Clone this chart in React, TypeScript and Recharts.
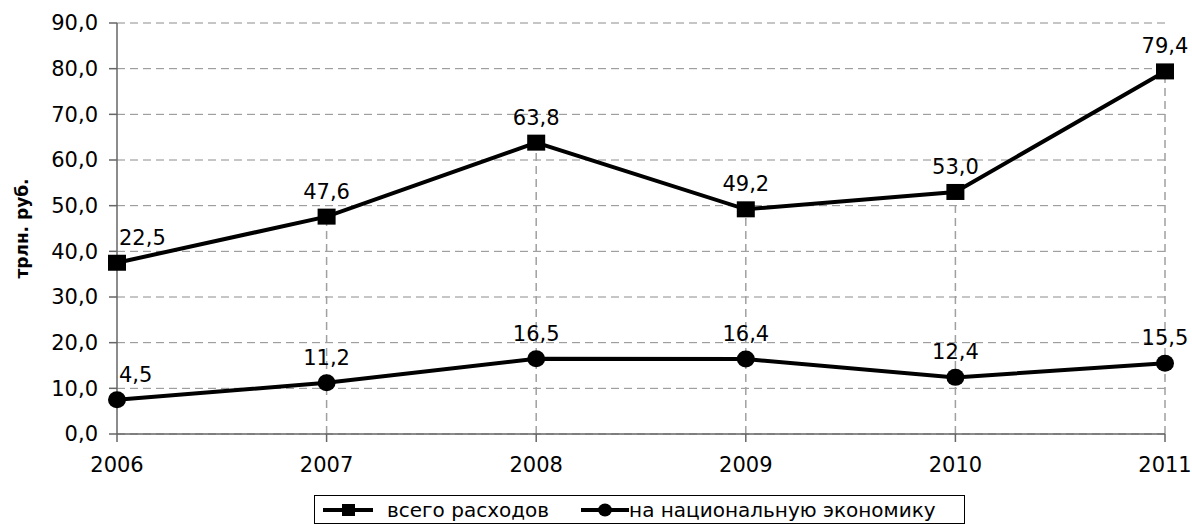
import { LineChart, Line, XAxis, YAxis, CartesianGrid, Legend, LabelList, ReferenceLine } from 'recharts';

const years = ['2006', '2007', '2008', '2009', '2010', '2011'];
const totalValues = [37.5, 47.6, 63.8, 49.2, 53.0, 79.4];
const totalLabels = ['22,5', '47,6', '63,8', '49,2', '53,0', '79,4'];
const economyValues = [7.5, 11.2, 16.5, 16.4, 12.4, 15.5];
const economyLabels = ['4,5', '11,2', '16,5', '16,4', '12,4', '15,5'];
const yTicks = [0, 10, 20, 30, 40, 50, 60, 70, 80, 90];

const data = years.map((year, i) => ({
  year,
  total: totalValues[i],
  economy: economyValues[i],
}));

const FONT = '"DejaVu Sans", sans-serif';
const tickStyle = { fontSize: 21, fill: '#000', fontFamily: FONT };

function SquareDot(props: any) {
  const { cx, cy } = props;
  if (cx == null || cy == null) return null;
  return <rect key={`sq-${props.index}`} x={cx - 9} y={cy - 8} width={18} height={16} fill="#000" />;
}

function CircleDot(props: any) {
  const { cx, cy } = props;
  if (cx == null || cy == null) return null;
  return <ellipse key={`ci-${props.index}`} cx={cx} cy={cy} rx={9} ry={8.5} fill="#000" />;
}

const makeLabel = (texts: string[]) => (props: any) => {
  const { x, y, index } = props;
  const first = index === 0;
  return (
    <text
      x={first ? x + 2 : x}
      y={y - 18}
      textAnchor={first ? 'start' : 'middle'}
      fontSize={21}
      fontFamily={FONT}
      fill="#000"
    >
      {texts[index]}
    </text>
  );
};

function LegendBox() {
  return (
    <div
      style={{
        border: '1px solid #000',
        height: 29,
        boxSizing: 'border-box',
        display: 'flex',
        alignItems: 'center',
        fontFamily: FONT,
        fontSize: 20,
        color: '#000',
        whiteSpace: 'nowrap',
      }}
    >
      <svg width={50} height={16} style={{ marginLeft: 8 }}>
        <line x1={0} y1={8} x2={50} y2={8} stroke="#000" strokeWidth={4} />
        <rect x={19} y={2} width={13} height={12} fill="#000" />
      </svg>
      <span style={{ marginLeft: 14 }}>всего расходов</span>
      <svg width={48} height={16} style={{ marginLeft: 32 }}>
        <line x1={0} y1={8} x2={48} y2={8} stroke="#000" strokeWidth={4} />
        <ellipse cx={24} cy={8} rx={7} ry={6.5} fill="#000" />
      </svg>
      <span>на национальную экономику</span>
    </div>
  );
}

export default function App() {
  return (
    <div style={{ position: 'absolute', left: 0, top: 0, width: 1192, height: 524, background: '#fff' }}>
      <LineChart width={1192} height={524} data={data} margin={{ top: 23, right: 27, left: 0, bottom: 0 }}>
        <CartesianGrid stroke="#8c8c8c" strokeDasharray="8 5" vertical={false} />
        <XAxis
          dataKey="year"
          tick={tickStyle}
          tickSize={8}
          tickMargin={15}
          height={61}
          axisLine={{ stroke: '#666', strokeWidth: 1.5 }}
          tickLine={{ stroke: '#666', strokeWidth: 1.5 }}
          interval={0}
        />
        <YAxis
          domain={[0, 90]}
          ticks={yTicks}
          width={117}
          tick={tickStyle}
          tickSize={8}
          tickMargin={11}
          axisLine={{ stroke: '#666', strokeWidth: 1.5 }}
          tickLine={{ stroke: '#666', strokeWidth: 1.5 }}
          tickFormatter={(v: number) => v.toFixed(1).replace('.', ',')}
          label={{
            content: (p: any) => {
              const vb = p.viewBox || {};
              const cy = (vb.y ?? 23) + (vb.height ?? 411) / 2;
              return (
                <text
                  x={28}
                  y={cy}
                  transform={`rotate(-90, 28, ${cy})`}
                  textAnchor="middle"
                  fontSize={17}
                  fontWeight="bold"
                  fontFamily={FONT}
                  fill="#000"
                >
                  трлн. руб.
                </text>
              );
            },
          }}
        />
        {years.slice(1).map((year, i) => (
          <ReferenceLine
            key={year}
            segment={[
              { x: year, y: 0 },
              { x: year, y: totalValues[i + 1] },
            ]}
            stroke="#a0a0a0"
            strokeWidth={1.5}
            strokeDasharray="8 5"
          />
        ))}
        <Legend
          verticalAlign="bottom"
          content={() => <LegendBox />}
          wrapperStyle={{ left: 314, width: 651, height: 29, bottom: 0 }}
        />
        <Line
          dataKey="total"
          name="всего расходов"
          stroke="#000"
          strokeWidth={4}
          dot={SquareDot}
          activeDot={false}
          isAnimationActive={false}
        >
          <LabelList dataKey="total" content={makeLabel(totalLabels)} />
        </Line>
        <Line
          dataKey="economy"
          name="на национальную экономику"
          stroke="#000"
          strokeWidth={4}
          dot={CircleDot}
          activeDot={false}
          isAnimationActive={false}
        >
          <LabelList dataKey="economy" content={makeLabel(economyLabels)} />
        </Line>
      </LineChart>
    </div>
  );
}
